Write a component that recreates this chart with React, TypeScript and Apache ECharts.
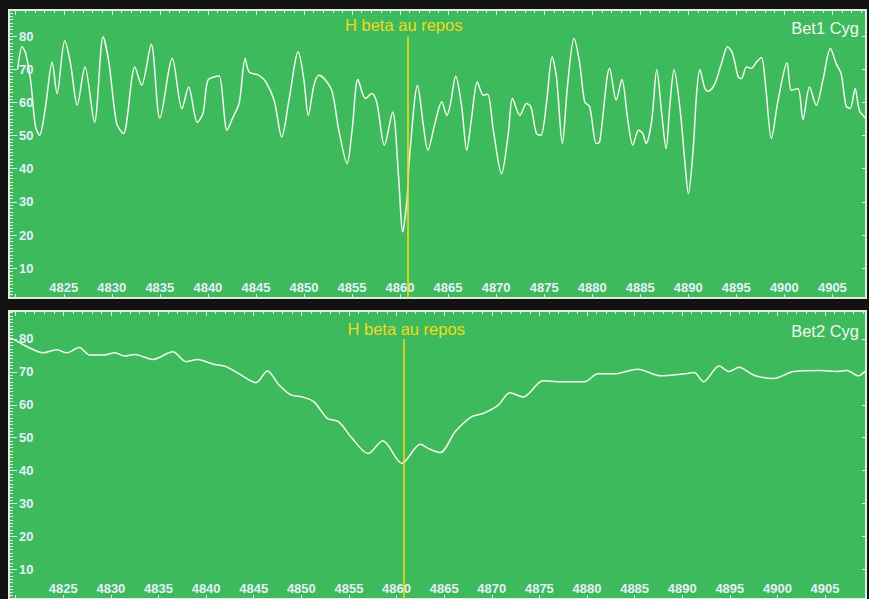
import React, { useEffect, useRef } from 'react';
import * as echarts from 'echarts';

// Bet1 Cyg spectrum (top panel): wavelength (Å) and relative intensity
const bet1Wavelength = [
  4820.2, 4820.67, 4821.03, 4821.55, 4822.06, 4822.48, 4823.1, 4823.79, 4824.3, 4825.1,
  4825.7, 4826.4, 4827.2, 4828.2, 4829.1, 4829.7, 4830.5, 4831.2, 4832.4, 4833.1,
  4834.1, 4835.0, 4836.3, 4837.3, 4838.0, 4838.9, 4839.5, 4840.0, 4840.9, 4841.2,
  4842.0, 4842.56, 4843.26, 4843.88, 4844.3, 4845.33, 4846.03, 4846.89, 4847.69, 4848.44,
  4849.41, 4850.0, 4850.45, 4851.04, 4851.56, 4852.25, 4852.94, 4853.63, 4854.49, 4855.01,
  4855.63, 4856.4, 4857.08, 4857.6, 4858.37, 4859.23, 4859.85, 4860.27, 4860.72, 4860.96,
  4861.83, 4862.45, 4862.89, 4863.66, 4864.35, 4864.87, 4865.22, 4865.8, 4866.42, 4866.94,
  4867.46, 4868.05, 4868.67, 4869.12, 4869.71, 4870.57, 4871.27, 4871.71, 4872.48, 4873.16,
  4873.62, 4874.2, 4874.66, 4875.24, 4875.83, 4876.28, 4876.9, 4877.42, 4878.11, 4878.7,
  4879.22, 4879.74, 4880.43, 4880.78, 4881.82, 4882.5, 4883.09, 4883.71, 4884.23, 4884.82,
  4885.27, 4885.61, 4886.2, 4886.72, 4887.24, 4887.69, 4888.1, 4888.52, 4889.14, 4889.66,
  4890.01, 4890.53, 4890.87, 4891.21, 4891.73, 4892.08, 4892.77, 4893.46, 4894.09, 4894.61,
  4895.2, 4895.54, 4896.06, 4896.58, 4897.1, 4897.61, 4898.06, 4898.65, 4899.35, 4900.28,
  4900.73, 4901.42, 4901.94, 4902.62, 4903.32, 4904.01, 4904.8, 4905.39, 4905.91, 4906.43,
  4906.85, 4907.37, 4907.81, 4908.5,
];
const bet1Intensity = [
  70.0, 76.8, 74.8, 66.7, 52.6, 50.1, 58.7, 72.2, 62.7, 78.6,
  71.8, 59.2, 70.7, 54.0, 79.8, 72.0, 53.7, 50.6, 70.7, 65.2,
  77.6, 55.2, 73.3, 58.1, 64.7, 54.0, 56.8, 66.7, 67.9, 68.0,
  51.6, 55.2, 59.8, 73.3, 69.2, 68.2, 66.2, 60.7, 49.6, 60.7,
  75.3, 66.7, 56.1, 65.2, 68.2, 66.7, 63.2, 51.6, 41.6, 51.6,
  66.9, 61.2, 62.7, 59.7, 47.1, 57.1, 37.5, 20.9, 30.5, 42.5,
  65.2, 52.6, 45.6, 54.0, 60.2, 56.1, 59.2, 67.9, 58.7, 45.6,
  55.6, 66.2, 62.2, 62.5, 51.6, 38.5, 50.6, 61.2, 56.1, 59.7,
  58.7, 50.6, 50.1, 59.7, 73.8, 67.7, 47.6, 64.7, 79.3, 71.8,
  60.2, 58.7, 47.6, 48.1, 70.3, 60.7, 66.9, 54.6, 47.1, 51.6,
  50.6, 47.6, 54.6, 69.9, 56.6, 46.1, 59.7, 69.9, 58.2, 41.6,
  32.5, 46.6, 62.7, 69.9, 64.2, 63.4, 65.7, 71.8, 76.8, 74.8,
  67.7, 67.2, 70.7, 70.3, 72.2, 73.6, 64.7, 49.1, 60.7, 72.0,
  63.7, 64.2, 54.8, 64.7, 59.2, 66.7, 76.3, 71.8, 68.7, 58.9,
  58.2, 64.2, 57.6, 55.2,
];

// Bet2 Cyg spectrum (bottom panel)
const bet2Wavelength = [
  4819.4, 4819.77, 4821.17, 4822.91, 4824.31, 4825.36, 4826.67, 4827.79, 4829.18, 4830.41,
  4831.45, 4832.5, 4834.41, 4836.51, 4837.91, 4839.12, 4840.69, 4842.09, 4843.48, 4845.23,
  4846.44, 4847.67, 4848.89, 4850.1, 4851.33, 4852.72, 4853.94, 4855.33, 4857.01, 4858.55,
  4860.56, 4862.49, 4863.36, 4864.58, 4866.15, 4867.89, 4869.11, 4870.68, 4871.9, 4873.3,
  4875.39, 4877.3, 4879.75, 4881.14, 4882.89, 4885.32, 4887.76, 4890.21, 4891.26, 4892.23,
  4893.87, 4894.92, 4895.96, 4897.53, 4899.62, 4901.72, 4904.5, 4906.25, 4907.3, 4908.51,
  4909.28,
];
const bet2Intensity = [
  80.2, 79.9, 77.7, 75.8, 76.7, 75.8, 77.4, 75.1, 75.1, 75.8,
  74.8, 75.3, 73.8, 76.1, 73.1, 73.8, 72.4, 71.6, 69.4, 66.7,
  70.3, 66.0, 63.0, 62.4, 60.9, 55.9, 54.8, 49.8, 45.2, 49.1,
  42.2, 48.0, 46.7, 45.5, 51.8, 56.4, 57.4, 59.9, 63.7, 62.4,
  67.3, 67.0, 67.0, 69.4, 69.4, 70.8, 68.8, 69.4, 69.8, 67.0,
  71.8, 70.1, 71.4, 69.0, 68.0, 70.1, 70.4, 70.1, 70.4, 68.8,
  70.4,
];

const xTickLabels = [4825, 4830, 4835, 4840, 4845, 4850, 4855, 4860, 4865, 4870, 4875, 4880, 4885, 4890, 4895, 4900, 4905];
const yTickLabels = [10, 20, 30, 40, 50, 60, 70, 80];
const hBetaRest = 4860.8;
const hBetaLabel = 'H beta au repos';
const panelNames = ['Bet1 Cyg', 'Bet2 Cyg'];

const GREEN = '#3dba5c';
const FRAME = '#e2ecdf';
const TICK_TEXT = '#e6effc';
const LINE = '#f4f7ec';
const YELLOW = '#f2d81c';
const BG = '#121212';

const zip = (xs: number[], ys: number[]) => xs.map((x, i) => [x, ys[i]]);
const round3 = (v: number) => Math.round(v * 1000) / 1000;

export default function App() {
  const ref = useRef<HTMLDivElement>(null);

  useEffect(() => {
    if (!ref.current) return;
    const chart = echarts.init(ref.current, null, { renderer: 'svg' });

    const panels = [
      { top: 10, height: 288, xMax: 4908.5, yMax: 87.9, labelDist: 3, labelOffset: [-4, 0], name: panelNames[0], data: zip(bet1Wavelength, bet1Intensity), nameY: 28 },
      { top: 311, height: 288, xMax: 4909.3, yMax: 88.5, labelDist: 1, labelOffset: [2, 0], name: panelNames[1], data: zip(bet2Wavelength, bet2Intensity), nameY: 331 },
    ];

    const grid: any[] = [];
    const xAxis: any[] = [];
    const yAxis: any[] = [];
    const series: any[] = [];
    const graphic: any[] = [];

    const labelFont = { color: TICK_TEXT, fontSize: 13, fontWeight: 'bold', fontFamily: '"Liberation Sans", Arial, sans-serif' };

    panels.forEach((p, i) => {
      grid.push({
        left: 9, top: p.top, width: 860, height: p.height,
        show: true, backgroundColor: GREEN, borderColor: FRAME, borderWidth: 2,
      });
      // bottom x axis with labels
      xAxis.push({
        type: 'value', gridIndex: i, position: 'bottom',
        min: 4819.3, max: p.xMax, minInterval: 5, maxInterval: 5, splitNumber: 18,
        axisLine: { show: false },
        axisTick: { show: true, inside: true, length: 4, lineStyle: { color: FRAME, width: 1 } },
        minorTick: { show: false },
        splitLine: { show: false },
        axisLabel: {
          inside: true, margin: 4, ...labelFont,
          formatter: (v: number) => (xTickLabels.includes(round3(v)) ? String(round3(v)) : ''),
        },
      });
      // top x axis: ruler ticks only
      xAxis.push({
        type: 'value', gridIndex: i, position: 'top',
        min: 4819.3, max: p.xMax, minInterval: 5, maxInterval: 5, splitNumber: 18,
        axisLine: { show: false },
        axisTick: { show: true, inside: true, length: 5, lineStyle: { color: FRAME, width: 1 } },
        minorTick: { show: true, splitNumber: 5, length: 3, lineStyle: { color: FRAME, width: 1 } },
        splitLine: { show: false },
        axisLabel: { show: false },
      });
      // left y axis with labels
      yAxis.push({
        type: 'value', gridIndex: i, position: 'left',
        min: 1, max: p.yMax, minInterval: 10, maxInterval: 10,
        axisLine: { show: false },
        axisTick: { show: true, inside: true, length: 8, lineStyle: { color: FRAME, width: 1 } },
        minorTick: { show: true, splitNumber: 10, length: 4, lineStyle: { color: FRAME, width: 1 } },
        splitLine: { show: false },
        axisLabel: {
          inside: true, margin: 10, ...labelFont,
          formatter: (v: number) => (yTickLabels.includes(round3(v)) ? String(round3(v)) : ''),
        },
      });
      // right y axis: ticks only
      yAxis.push({
        type: 'value', gridIndex: i, position: 'right',
        min: 1, max: p.yMax, minInterval: 10, maxInterval: 10,
        axisLine: { show: false },
        axisTick: { show: true, inside: true, length: 4, lineStyle: { color: FRAME, width: 1 } },
        splitLine: { show: false },
        axisLabel: { show: false },
      });

      series.push({
        type: 'line', xAxisIndex: i * 2, yAxisIndex: i * 2,
        data: p.data, symbol: 'none', smooth: 0.3,
        lineStyle: { color: LINE, width: 1.5 },
        silent: true,
        markLine: {
          silent: true, symbol: ['none', 'none'],
          lineStyle: { color: YELLOW, width: 1.6, type: 'solid' },
          label: {
            show: true, position: 'end', formatter: hBetaLabel, color: YELLOW,
            fontSize: 16.5, fontFamily: '"Liberation Sans", Arial, sans-serif',
            distance: p.labelDist, offset: p.labelOffset,
          },
          emphasis: { disabled: true },
          data: [[{ coord: [hBetaRest, 1] }, { coord: [hBetaRest, 80] }]],
        },
      });

      graphic.push({
        type: 'text', x: 859, y: p.nameY, silent: true,
        style: {
          text: p.name, fill: '#f2f6f2', font: '16.5px "Liberation Sans", Arial, sans-serif',
          textAlign: 'right', textVerticalAlign: 'middle',
        },
      });
    });

    chart.setOption({
      animation: false,
      backgroundColor: BG,
      textStyle: { fontFamily: '"Liberation Sans", Arial, sans-serif' },
      grid, xAxis, yAxis, series, graphic,
    });

    return () => chart.dispose();
  }, []);

  return (
    <div
      ref={ref}
      style={{ position: 'absolute', left: 0, top: 0, width: 869, height: 599 }}
    />
  );
}
